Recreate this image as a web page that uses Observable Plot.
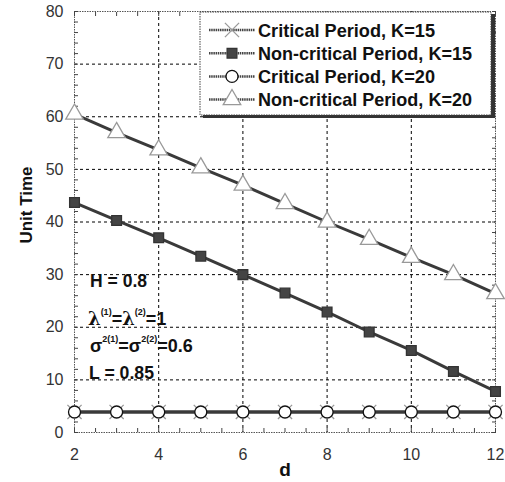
<!DOCTYPE html>
<html>
<head>
<meta charset="utf-8">
<script src="https://cdn.jsdelivr.net/npm/d3@7"></script>
<script src="https://cdn.jsdelivr.net/npm/@observablehq/plot@0.6"></script>
<style>
  html, body { margin: 0; padding: 0; background: #fff; }
  #wrap { position: relative; width: 505px; height: 482px; font-family: "Liberation Sans", Arial, sans-serif; }
</style>
</head>
<body>
<div id="wrap"><div id="chart"></div></div>
<script>
const dValues = [2, 3, 4, 5, 6, 7, 8, 9, 10, 11, 12];
const seriesNames = ["Critical Period, K=15", "Non-critical Period, K=15", "Critical Period, K=20", "Non-critical Period, K=20"];
const criticalK15 = [3.9, 3.9, 3.9, 3.9, 3.9, 3.9, 3.9, 3.9, 3.9, 3.9, 3.9];
const nonCriticalK15 = [43.7, 40.3, 37.0, 33.5, 30.0, 26.5, 22.9, 19.1, 15.6, 11.6, 7.8];
const criticalK20 = [3.9, 3.9, 3.9, 3.9, 3.9, 3.9, 3.9, 3.9, 3.9, 3.9, 3.9];
const nonCriticalK20 = [60.5, 57.0, 53.7, 50.3, 47.0, 43.5, 40.0, 36.7, 33.3, 30.0, 26.4];
const xTicks = [2, 4, 6, 8, 10, 12];
const yTicks = [0, 10, 20, 30, 40, 50, 60, 70, 80];

const allSeries = [criticalK15, nonCriticalK15, criticalK20, nonCriticalK20];
const styles = [
  {symbol: "times", r: 6.5, fill: "none", stroke: "#999"},
  {symbol: "square", r: 5.5, fill: "#444", stroke: "#333"},
  {symbol: "circle", r: 6, fill: "white", stroke: "#111"},
  {symbol: "triangle", r: 6.5, fill: "white", stroke: "#999"}
];
const data = [];
allSeries.forEach((vals, i) => vals.forEach((v, j) => data.push({d: dValues[j], v, s: seriesNames[i], i})));

const font = '"Liberation Sans", Arial, sans-serif';
const minorX = d3.range(2, 12.001, 0.5);
const minorY = d3.range(0, 80.001, 2);

const marks = [
  Plot.gridX(xTicks.slice(1, -1), {stroke: "#000", strokeOpacity: 1, strokeDasharray: "3,3"}),
  Plot.gridY(yTicks.slice(1, -1), {stroke: "#000", strokeOpacity: 1, strokeDasharray: "3,3"}),
  Plot.frame({stroke: "#555", strokeDasharray: "1.5,1"}),
  Plot.axisX(minorX, {anchor: "bottom", tickSize: -4, text: null, label: null, stroke: "#444"}),
  Plot.axisX(minorX, {anchor: "top", tickSize: -4, text: null, label: null, stroke: "#444"}),
  Plot.axisY(minorY, {anchor: "left", tickSize: -4, text: null, label: null, stroke: "#444"}),
  Plot.axisY(minorY, {anchor: "right", tickSize: -4, text: null, label: null, stroke: "#444"}),
  Plot.axisX(xTicks, {anchor: "bottom", tickSize: 0, tickPadding: 16, fontSize: 16, fill: "#333", label: null}),
  Plot.axisY(yTicks, {anchor: "left", tickSize: 0, tickPadding: 11, fontSize: 16, fill: "#333", label: null}),
];
allSeries.forEach((vals, i) => {
  const sd = data.filter(e => e.i === i);
  marks.push(Plot.line(sd, {x: "d", y: "v", stroke: "#3a3a3a", strokeWidth: 3}));
});
[0, 1, 3, 2].forEach(i => {
  const sd = data.filter(e => e.i === i);
  const st = styles[i];
  marks.push(Plot.dot(sd, {x: "d", y: "v", symbol: st.symbol, r: st.r, fill: st.fill, stroke: st.stroke, strokeWidth: 1.3}));
});

const chart = Plot.plot({
  width: 505,
  height: 482,
  marginLeft: 74,
  marginRight: 10,
  marginTop: 11,
  marginBottom: 50,
  style: {fontFamily: font, background: "white", overflow: "visible"},
  x: {domain: [2, 12], label: null},
  y: {domain: [0, 80], label: null},
  marks
});
document.getElementById("chart").appendChild(chart);

const svg = d3.select(chart);
// axis titles
svg.append("text").attr("x", 285).attr("y", 476).attr("text-anchor", "middle")
  .attr("font-size", 19).attr("font-weight", "bold").attr("fill", "#111").text("d");
svg.append("text").attr("transform", "translate(32,205) rotate(-90)").attr("text-anchor", "middle")
  .attr("font-size", 17).attr("font-weight", "bold").attr("fill", "#111").text("Unit Time");

// legend
const symMap = {times: d3.symbolTimes, square: d3.symbolSquare, circle: d3.symbolCircle, triangle: d3.symbolTriangle};
const lg = svg.append("g").attr("text-anchor", "start");
lg.append("rect").attr("x", 203).attr("y", 14).attr("width", 292).attr("height", 104).attr("fill", "#333");
lg.append("rect").attr("x", 200).attr("y", 12).attr("width", 291).attr("height", 103)
  .attr("fill", "white").attr("stroke", "#444").attr("stroke-dasharray", "1.5,1");
const legendTextWidths = [177, 214, 177, 214];
seriesNames.forEach((name, i) => {
  const st = styles[i];
  const cy = 30 + i * 23.2;
  lg.append("line").attr("x1", 209).attr("x2", 255).attr("y1", cy).attr("y2", cy)
    .attr("stroke", "#444").attr("stroke-width", 2.5).attr("stroke-dasharray", "1.5,0.7");
  const size = st.r * st.r * Math.PI;
  lg.append("path").attr("d", d3.symbol(symMap[st.symbol], size)())
    .attr("transform", `translate(232,${cy})`).attr("fill", st.fill).attr("stroke", st.stroke).attr("stroke-width", 1.3);
  lg.append("text").attr("x", 258).attr("y", cy + 6.5).attr("font-size", 18.5).attr("font-weight", "bold")
    .attr("fill", "#111").attr("textLength", legendTextWidths[i]).attr("lengthAdjust", "spacingAndGlyphs").text(name);
});

// annotation text
const ann = svg.append("g").attr("text-anchor", "start").attr("font-weight", "bold").attr("fill", "#111").attr("font-size", 19);
ann.append("text").attr("x", 90).attr("y", 287).attr("textLength", 57).attr("lengthAdjust", "spacingAndGlyphs").text("H = 0.8");
const lam = ann.append("text").attr("x", 88).attr("y", 325).attr("font-size", 18);
lam.append("tspan").attr("font-family", "DejaVu Serif, serif").text("λ");
lam.append("tspan").attr("font-size", 9).attr("dy", -10).text("(1)");
lam.append("tspan").attr("dy", 10).text("=");
lam.append("tspan").attr("font-family", "DejaVu Serif, serif").text("λ");
lam.append("tspan").attr("font-size", 9).attr("dy", -10).text("(2)");
lam.append("tspan").attr("dy", 10).text("=1");
const sig = ann.append("text").attr("x", 90).attr("y", 352).attr("font-size", 18);
sig.append("tspan").text("σ");
sig.append("tspan").attr("font-size", 9).attr("dy", -10).text("2(1)");
sig.append("tspan").attr("dy", 10).text("=σ");
sig.append("tspan").attr("font-size", 9).attr("dy", -10).text("2(2)");
sig.append("tspan").attr("dy", 10).text("=0.6");
ann.append("text").attr("x", 89).attr("y", 379).attr("textLength", 65).attr("lengthAdjust", "spacingAndGlyphs").text("L = 0.85");
</script>
</body>
</html>
